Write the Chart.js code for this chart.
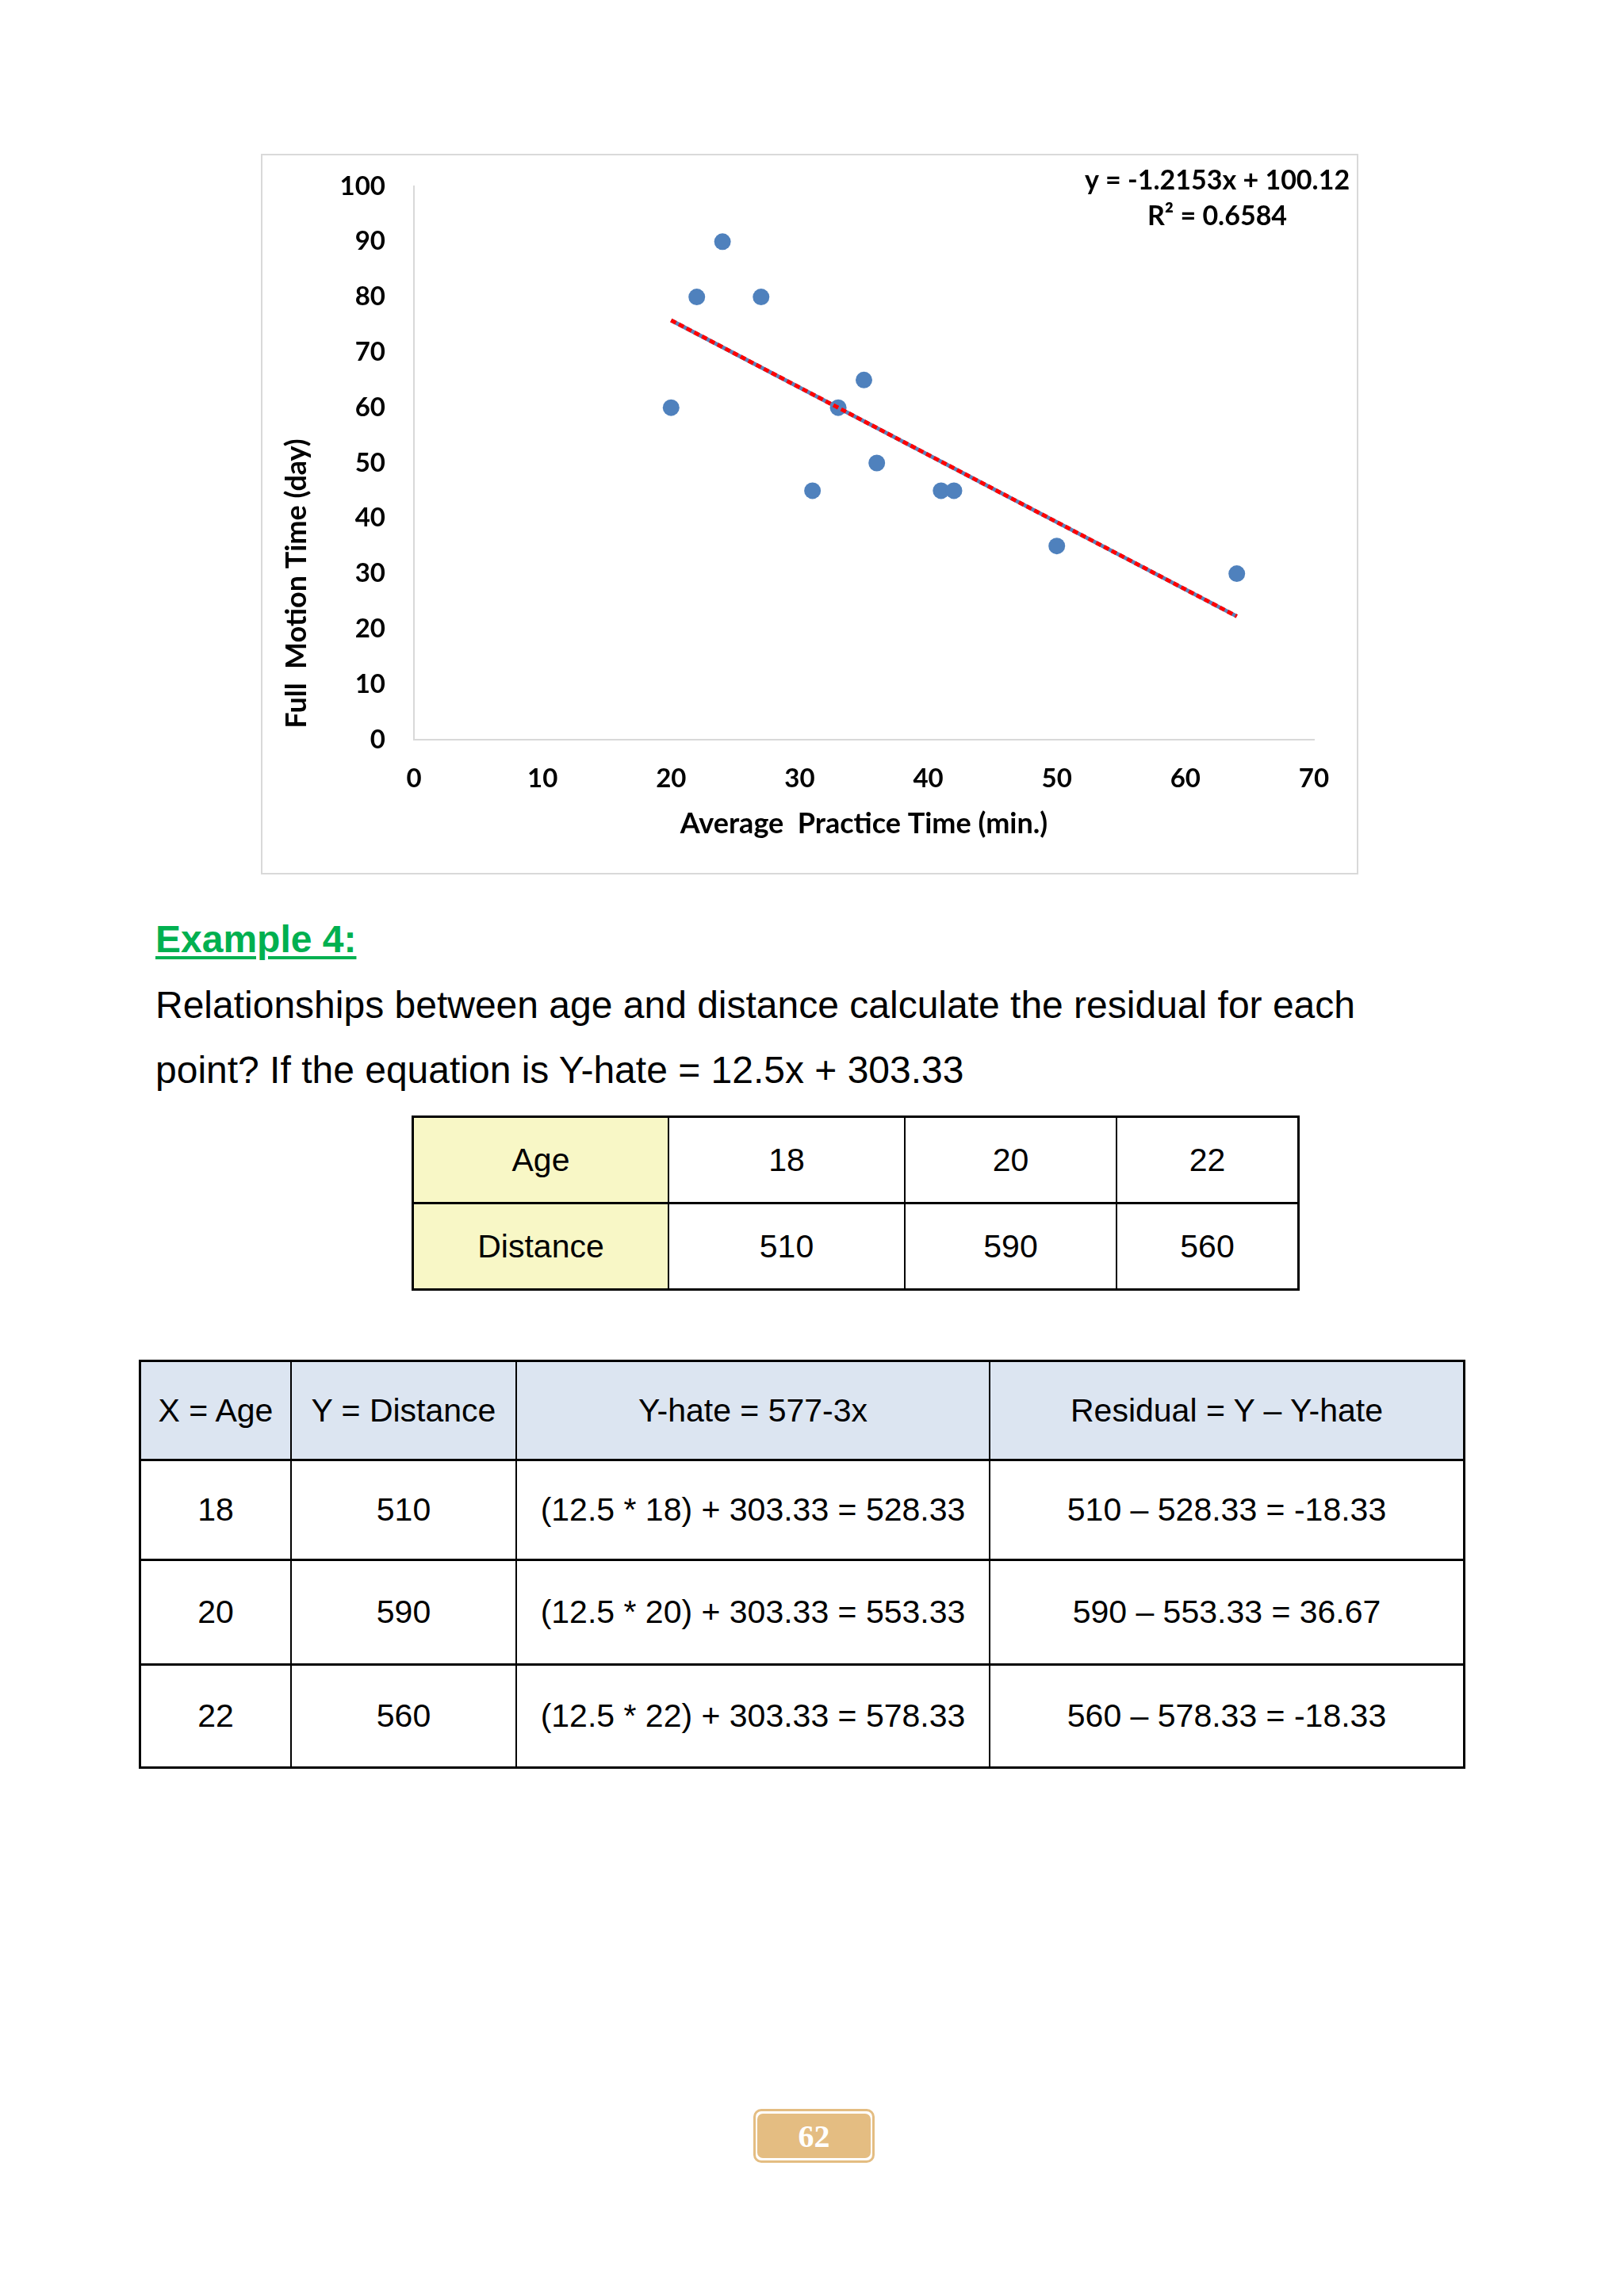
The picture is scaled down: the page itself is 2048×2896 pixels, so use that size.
<!DOCTYPE html>
<html>
<head>
<meta charset="UTF-8">
<title>Example 4 - Residuals</title>
<script src="https://cdn.jsdelivr.net/npm/chart.js@4.4.1/dist/chart.umd.min.js"></script>
<style>
  html, body { margin: 0; padding: 0; background: #fff; }
  body {
    width: 2048px;
    height: 2896px;
    position: relative;
    overflow: hidden;
    font-family: "Liberation Sans", Arial, sans-serif;
    color: #000;
  }
  .chart-box {
    position: absolute;
    left: 329px; top: 194px;
    width: 1384px; height: 909px;
    box-sizing: border-box;
    border: 2px solid #d9d9d9;
  }
  .chart-wrap {
    position: absolute;
    left: 329px; top: 194px;
    width: 1384px; height: 909px;
  }
  .example {
    position: absolute;
    left: 196px; top: 1161px;
    font-size: 48px; line-height: 48px;
    font-weight: bold;
    color: #00b050;
    text-decoration: underline;
    text-decoration-thickness: 4px;
    text-underline-offset: 5px;
    white-space: nowrap;
  }
  .question {
    position: absolute;
    left: 196px; top: 1227px;
    font-size: 48px; line-height: 82px;
    white-space: nowrap;
  }
  .grid {
    position: absolute;
    display: grid;
    background: #000;
    padding: 3px;
    column-gap: 2px;
    row-gap: 3px;
  }
  .grid div {
    background: #fff;
    display: flex;
    align-items: center;
    justify-content: center;
    font-size: 41px;
    white-space: nowrap;
  }
  #table1 {
    left: 519px; top: 1407px;
    grid-template-columns: 320px 296px 265px 227px;
    grid-template-rows: 106px 106px;
  }
  #table1 .hd { background: #f8f7c6; }
  #table2 {
    left: 175px; top: 1715px;
    grid-template-columns: 188px 282px 595px 596px;
    grid-template-rows: 122px 123px 129px 127px;
  }
  #table2 .hd { background: #dce5f1; }
  .pageno {
    position: absolute;
    left: 950px; top: 2660px;
    width: 153px; height: 68px;
    box-sizing: border-box;
    border: 3px solid #e4bd82;
    border-radius: 10px;
  }
  .pageno span {
    position: absolute;
    left: 2px; top: 3px; right: 2px; bottom: 3px;
    background: #e4bd82;
    border-radius: 7px;
    color: #fff;
    font: bold 40px "Liberation Serif", "Times New Roman", serif;
    display: flex;
    align-items: center;
    justify-content: center;
  }
</style>
</head>
<body>
  <div class="chart-box"></div>
  <div class="chart-wrap"><canvas id="scatterChart"></canvas></div>

  <div class="example">Example 4:</div>
  <div class="question">Relationships between age and distance calculate the residual for each<br>point? If the equation is Y-hate = 12.5x + 303.33</div>

  <div class="grid" id="table1">
    <div class="hd">Age</div><div>18</div><div>20</div><div>22</div>
    <div class="hd">Distance</div><div>510</div><div>590</div><div>560</div>
  </div>

  <div class="grid" id="table2">
    <div class="hd">X = Age</div><div class="hd">Y = Distance</div><div class="hd">Y-hate = 577-3x</div><div class="hd">Residual = Y – Y-hate</div>
    <div>18</div><div>510</div><div>(12.5 * 18) + 303.33 = 528.33</div><div>510 – 528.33 = -18.33</div>
    <div>20</div><div>590</div><div>(12.5 * 20) + 303.33 = 553.33</div><div>590 – 553.33 = 36.67</div>
    <div>22</div><div>560</div><div>(12.5 * 22) + 303.33 = 578.33</div><div>560 – 578.33 = -18.33</div>
  </div>

  <div class="pageno"><span>62</span></div>

<script>
  // Data
  const practiceTime = [20, 22, 24, 27, 31, 33, 35, 36, 41, 42, 50, 64];
  const motionTime   = [60, 80, 90, 80, 45, 60, 65, 50, 45, 45, 35, 30];

  // Trendline ends (Excel linear trendline, drawn from first to last x)
  const trendX = [20, 64];
  const trendY = [75.8, 22.3];
  const trendLabel = ['y = -1.2153x + 100.12', 'R\u00b2 = 0.6584'];
  const yTitle = 'Full  Motion Time (day)';

  // Axis ticks
  const xTickValues = [0, 10, 20, 30, 40, 50, 60, 70];
  const yTickValues = [0, 10, 20, 30, 40, 50, 60, 70, 80, 90, 100];

  const toPoints = (xs, ys) => xs.map((x, i) => ({ x: x, y: ys[i] }));

  Chart.defaults.font.family = 'Lato, "Open Sans", sans-serif';
  Chart.defaults.color = '#000';

  const tickFont = { size: 33, weight: 'bold' };
  const titleFont = { size: 36, weight: 'bold' };

  // Equation text in the top right corner, and the y title
  // (Excel puts it a bit below the middle of the axis, chart.js can't offset it)
  const labelsPlugin = {
    id: 'chartLabels',
    afterDraw(chart) {
      const { ctx, chartArea } = chart;
      ctx.save();
      ctx.fillStyle = '#000';
      ctx.textAlign = 'center';
      ctx.textBaseline = 'middle';
      ctx.font = 'bold 34px Lato';
      ctx.fillText(trendLabel[0], chartArea.right - 122, chartArea.top - 7);
      ctx.fillText(trendLabel[1], chartArea.right - 122, chartArea.top + 38);

      ctx.font = 'bold 36px Lato';
      ctx.translate(45, chartArea.top + 501);
      ctx.rotate(-Math.PI / 2);
      ctx.fillText(yTitle, 0, 0);
      ctx.restore();
    }
  };

  // fixed axis boxes so the plot area sits where the original one does
  const fitX = s => { s.height = 170; s.paddingLeft = 0; s.paddingRight = 0; };
  const fitY = s => { s.width = 193; s.paddingTop = 0; s.paddingBottom = 0; };

  const ctx = document.getElementById('scatterChart').getContext('2d');
  new Chart(ctx, {
    type: 'scatter',
    data: {
      datasets: [
        {
          type: 'line',
          data: toPoints(trendX, trendY),
          borderColor: '#FF0000',
          borderWidth: 5,
          borderDash: [7, 4],
          pointRadius: 0,
          fill: false
        },
        {
          type: 'line',
          data: toPoints(trendX, trendY),
          borderColor: '#5B82BA',
          borderWidth: 5,
          pointRadius: 0,
          fill: false
        },
        {
          data: toPoints(practiceTime, motionTime),
          backgroundColor: '#4F81BD',
          borderWidth: 0,
          pointRadius: 10.5,
          pointHoverRadius: 10.5
        }
      ]
    },
    options: {
      responsive: true,
      maintainAspectRatio: false,
      animation: false,
      layout: { padding: { left: 0, right: 56, top: 41, bottom: 0 } },
      plugins: {
        legend: { display: false },
        tooltip: { enabled: false }
      },
      scales: {
        x: {
          type: 'linear',
          min: 0,
          max: 70,
          afterBuildTicks: s => { s.ticks = xTickValues.map(v => ({ value: v })); },
          afterFit: fitX,
          grid: { display: false, drawTicks: false },
          border: { color: '#d9d9d9', width: 2 },
          ticks: { padding: 30, color: '#000', font: tickFont },
          title: {
            display: true,
            text: 'Average  Practice Time (min.)',
            color: '#000',
            font: titleFont,
            padding: { top: 0, bottom: 42 }
          }
        },
        y: {
          type: 'linear',
          min: 0,
          max: 100,
          afterBuildTicks: s => { s.ticks = yTickValues.map(v => ({ value: v })); },
          afterFit: fitY,
          grid: { display: false, drawTicks: false },
          border: { color: '#d9d9d9', width: 2 },
          ticks: { padding: 36, color: '#000', font: tickFont },
          title: { display: false }
        }
      }
    },
    plugins: [labelsPlugin]
  });
</script>
</body>
</html>
